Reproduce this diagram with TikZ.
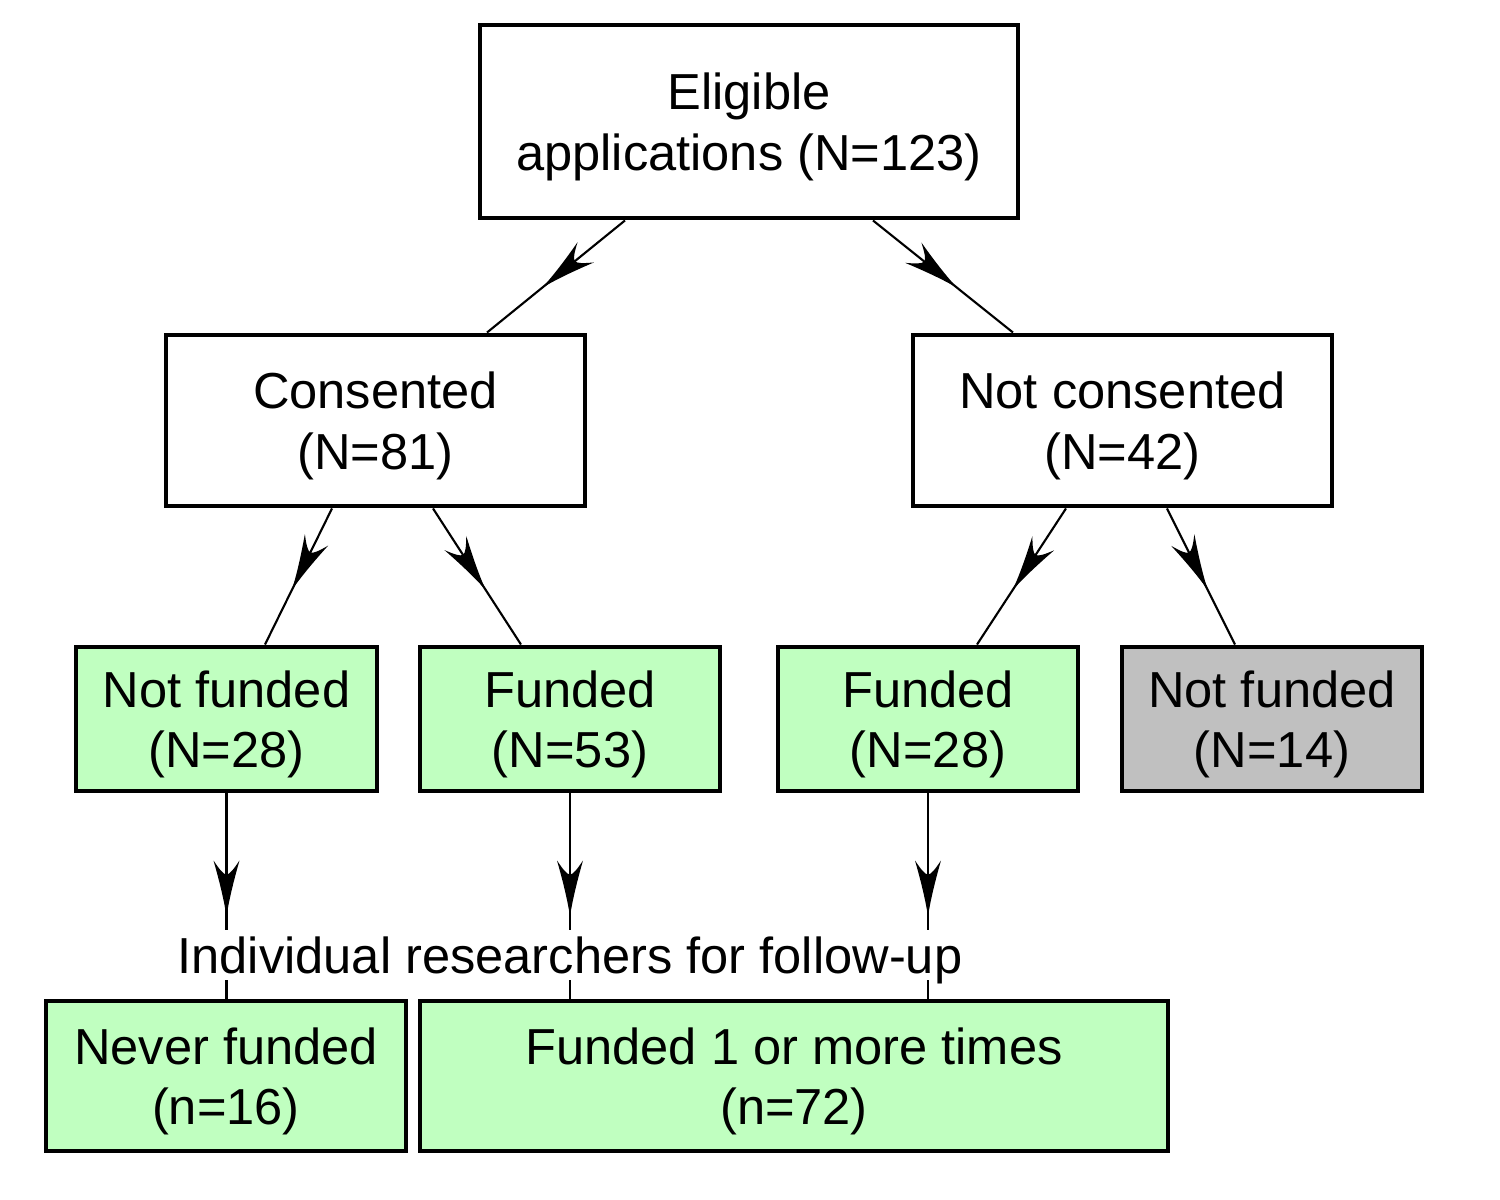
\documentclass[tikz,border=0pt]{standalone}
\usepackage{fontspec}
\setmainfont{Liberation Sans}
\usepackage{tikz}
\usetikzlibrary{decorations.markings}
\definecolor{boxgreen}{RGB}{192,255,192}
\definecolor{boxgray}{RGB}{192,192,192}

\tikzset{
	box/.style={draw,line width=1.4pt,align=center,inner sep=0pt,text depth=0pt,
		font=\fontsize{14.4}{17.2}\selectfont},
	greenbox/.style={box,fill=boxgreen},
	graybox/.style={box,fill=boxgray},
	flowline/.style={line width=0.6pt,postaction={decorate},
		decoration={markings,mark=at position 0.6 with {
			\fill (0,0) .. controls (-0.2,0.03) and (-0.42,0.09) .. (-0.56,0.13)
				.. controls (-0.47,0.07) and (-0.42,0.03) .. (-0.42,0)
				.. controls (-0.42,-0.03) and (-0.47,-0.07) .. (-0.56,-0.13)
				.. controls (-0.42,-0.09) and (-0.2,-0.03) .. (0,0);
		}}},
}

\begin{document}
\begin{tikzpicture}
	\useasboundingbox (0,0) rectangle (15,12);
	% top
	\node[box,minimum width=5.38cm,minimum height=1.93cm] (elig) at (7.49,10.785) {Eligible\\applications (N=123)};
	\node[box,minimum width=4.19cm,minimum height=1.71cm] (cons) at (3.755,7.795) {Consented\\(N=81)};
	\node[box,minimum width=4.19cm,minimum height=1.71cm] (ncons) at (11.225,7.795) {Not consented\\(N=42)};
	% funding outcome
	\node[greenbox,minimum width=3.01cm,minimum height=1.44cm] (nf1) at (2.265,4.81) {Not funded\\(N=28)};
	\node[greenbox,minimum width=3cm,minimum height=1.44cm] (f1) at (5.70,4.81) {Funded\\(N=53)};
	\node[greenbox,minimum width=3cm,minimum height=1.44cm] (f2) at (9.28,4.81) {Funded\\(N=28)};
	\node[graybox,minimum width=3cm,minimum height=1.44cm] (nf2) at (12.72,4.81) {Not funded\\(N=14)};
	% researchers
	\node[greenbox,minimum width=3.6cm,minimum height=1.5cm] (never) at (2.26,1.24) {Never funded\\(n=16)};
	\node[greenbox,minimum width=7.48cm,minimum height=1.5cm] (more) at (7.94,1.24) {Funded 1 or more times\\(n=72)};

	\draw[flowline] ([xshift=-1.24cm]elig.south) -- ([xshift=1.115cm]cons.north);
	\draw[flowline] ([xshift=1.24cm]elig.south) -- ([xshift=-1.095cm]ncons.north);
	\draw[flowline] ([xshift=-0.435cm]cons.south) -- ([xshift=0.385cm]nf1.north);
	\draw[flowline] ([xshift=0.575cm]cons.south) -- ([xshift=-0.49cm]f1.north);
	\draw[flowline] ([xshift=-0.565cm]ncons.south) -- ([xshift=0.49cm]f2.north);
	\draw[flowline] ([xshift=0.445cm]ncons.south) -- ([xshift=-0.37cm]nf2.north);
	\foreach \n in {nf1,f1,f2}{
		\draw[flowline] (\n.south) -- (\n.south |- more.north);
	}
	\node[fill=white,inner sep=2pt,text depth=0pt,font=\fontsize{14.4}{17.2}\selectfont] (follow) at (5.70,2.45) {Individual researchers for follow-up};
\end{tikzpicture}
\end{document}
